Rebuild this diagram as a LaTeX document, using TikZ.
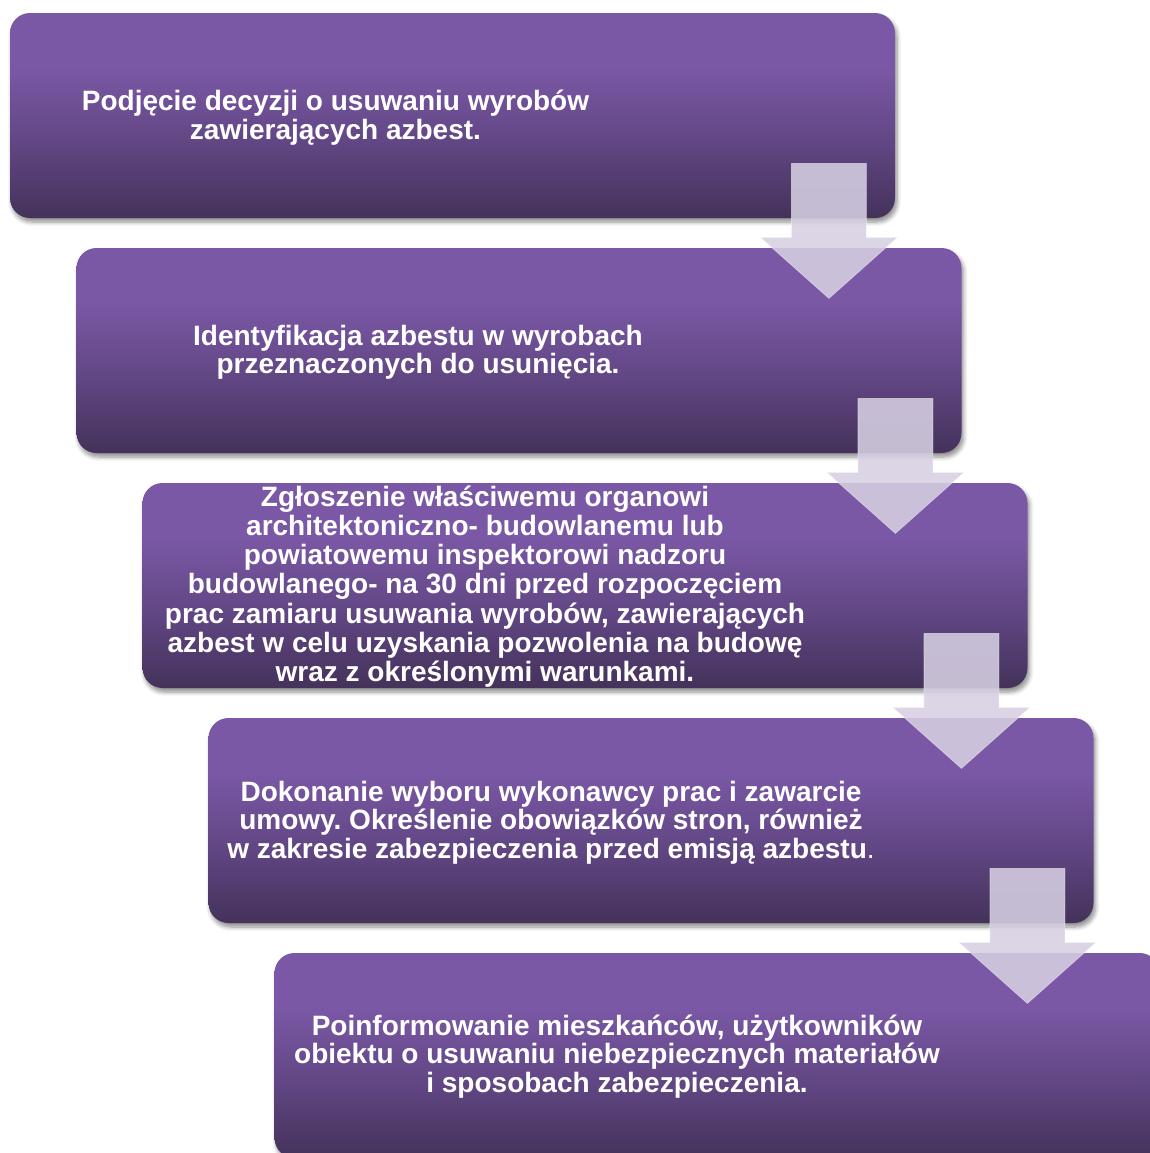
\documentclass[tikz,border=0pt]{standalone}
\usepackage{fontspec}
\setmainfont{Liberation Sans}
\usetikzlibrary{calc,shadows.blur}
\frenchspacing
\newcommand\tightlines{\lineskiplimit=-20pt\relax}

\definecolor{boxtop}{RGB}{123,88,166}
\definecolor{boxmid}{RGB}{98,71,133}
\definecolor{boxbot}{RGB}{68,50,90}
\definecolor{arrowfill}{RGB}{214,207,226}

\pgfdeclareverticalshading{stepshade}{100bp}{color(0bp)=(boxbot); color(25bp)=(boxbot); color(44bp)=(boxmid); color(62bp)=(boxtop); color(75bp)=(boxtop); color(100bp)=(boxtop)}

\tikzset{
stepbox/.style={rectangle,rounded corners=10pt,minimum width=442.5pt,minimum height=102.5pt,
  inner sep=0pt,shading=stepshade,
  blur shadow={shadow xshift=1pt,shadow yshift=-2pt,shadow opacity=45,shadow blur steps=6}},
steptext/.style={text=white,align=center,inner sep=0pt,
  font=\bfseries\fontsize{14}{14.25}\selectfont\tightlines},
downarrow/.style={fill=arrowfill,fill opacity=0.88,draw=white,draw opacity=0.4,line width=0.4pt}}

\begin{document}
\begin{tikzpicture}[x=0.5pt,y=-0.5pt]
  \clip (0,0) rectangle (1150,1153);
  \useasboundingbox (0,0) rectangle (1150,1153);
  % the five steps
  \node[stepbox] (b1) at (452.5,115.5) {};
  \node[stepbox] (b2) at (519,350.5) {};
  \node[stepbox] (b3) at (585,585.5) {};
  \node[stepbox] (b4) at (651,820.5) {};
  \node[stepbox] (b5) at (717,1055.5) {};
  \node[steptext] (t1) at ($(b1.center)+(-117,2)$)
    {Podjęcie decyzji o usuwaniu wyrobów\\zawierających azbest.};
  \node[steptext] (t2) at ($(b2.center)+(-101,2)$)
    {Identyfikacja azbestu w wyrobach\\przeznaczonych do usunięcia.};
  \node[steptext,font=\bfseries\fontsize{14}{14.6}\selectfont\tightlines] (t3) at ($(b3.center)+(-100,1)$)
    {Zgłoszenie właściwemu organowi\\architektoniczno- budowlanemu lub\\powiatowemu inspektorowi nadzoru\\budowlanego- na 30 dni przed rozpoczęciem\\prac zamiaru usuwania wyrobów, zawierających\\azbest w celu uzyskania pozwolenia na budowę\\wraz z określonymi warunkami.};
  \node[steptext] (t4) at ($(b4.center)+(-100,2)$)
    {Dokonanie wyboru wykonawcy prac i zawarcie\\umowy. Określenie obowiązków stron, również\\w zakresie zabezpieczenia przed emisją azbestu\mdseries.};
  \node[steptext] (t5) at ($(b5.center)+(-100,1)$)
    {Poinformowanie mieszkańców, użytkowników\\obiektu o usuwaniu niebezpiecznych materiałów\\i sposobach zabezpieczenia.};
  % arrows between steps
  \foreach \a in {1,2,3,4}{
    \draw[downarrow] ($(b\a.south east)+(-104,-55)$) -- ($(b\a.south east)+(-29,-55)$)
      -- ($(b\a.south east)+(-29,19)$) -- ($(b\a.south east)+(2,19)$)
      -- ($(b\a.south east)+(-66.5,80)$) -- ($(b\a.south east)+(-135,19)$)
      -- ($(b\a.south east)+(-104,19)$) -- cycle;
  }
\end{tikzpicture}
\end{document}
